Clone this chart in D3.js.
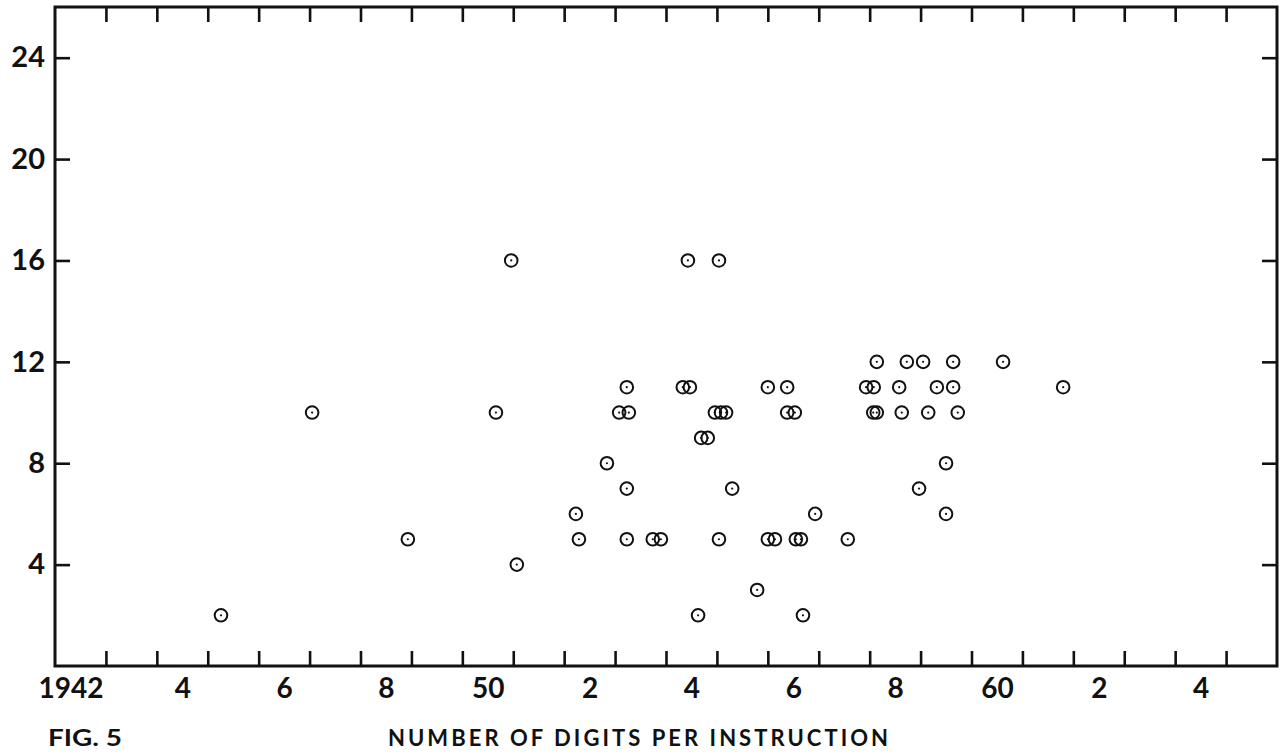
<!DOCTYPE html>
<html>
<head>
<meta charset="utf-8">
<script src="https://cdn.jsdelivr.net/npm/d3@7"></script>
<style>
  html, body { margin: 0; padding: 0; background: #fff; }
  svg { display: block; }
  text { font-family: Lato, "Open Sans", sans-serif; font-weight: 700; fill: #111; }
</style>
</head>
<body>
<svg id="chart" width="1282" height="755"></svg>
<script>
// Year of introduction (fractional) for each machine
const years = [
  1945.26, 1947.05, 1948.93, 1950.66, 1950.96, 1951.07, 1952.23, 1952.29, 1952.84, 1953.08,
  1953.27, 1953.23, 1953.23, 1953.23, 1953.74, 1953.90, 1954.33, 1954.47, 1954.43, 1954.63,
  1954.69, 1954.82, 1954.96, 1955.08, 1955.18, 1955.04, 1955.04, 1955.30, 1955.79, 1956.00,
  1956.00, 1956.14, 1956.38, 1956.38, 1956.53, 1956.55, 1956.65, 1956.69, 1956.93, 1957.57,
  1957.93, 1958.08, 1958.07, 1958.14, 1958.14, 1958.58, 1958.63, 1958.73, 1958.97, 1959.05,
  1959.15, 1959.32, 1959.50, 1959.50, 1959.64, 1959.64, 1959.73, 1960.62, 1961.80
];
// Number of digits per instruction for each machine
const digits = [
  2, 10, 5, 10, 16, 4, 6, 5, 8, 10,
  10, 11, 7, 5, 5, 5, 11, 11, 16, 2,
  9, 9, 10, 10, 10, 16, 5, 7, 3, 11,
  5, 5, 11, 10, 10, 5, 5, 2, 6, 5,
  11, 11, 10, 10, 12, 11, 10, 12, 7, 12,
  10, 11, 8, 6, 12, 11, 10, 12, 11
];

// Axis definitions
const yearDomain = [1942, 1966];
const yearTicks = d3.range(1943, 1966);                 // one tick per year boundary
const yearLabelPos = d3.range(1942.5, 1965, 2);         // labels sit mid-year
const yearLabels = ["1942", "4", "6", "8", "50", "2", "4", "6", "8", "60", "2", "4"];
const digitDomain = [0, 26];
const digitTicks = [4, 8, 12, 16, 20, 24];

const figLabel = "FIG. 5";
const xTitle = "NUMBER OF DIGITS PER INSTRUCTION";

const svg = d3.select("#chart");
const plotL = 55, plotR = 1277, plotT = 7, plotB = 666;

const x = d3.scaleLinear().domain(yearDomain).range([plotL, plotR]);
const y = d3.scaleLinear().domain(digitDomain).range([plotB, plotT]);

const ink = "#111";
const tickLen = 15;

function styleAxis(g, width) {
  g.select(".domain").remove();
  g.selectAll(".tick line").attr("stroke", ink).attr("stroke-width", width);
}

// Inward year ticks along the bottom and top edges
svg.append("g")
  .attr("transform", `translate(0,${plotB})`)
  .call(d3.axisTop(x).tickValues(yearTicks).tickSize(tickLen).tickFormat(""))
  .call(g => styleAxis(g, 2.6));
svg.append("g")
  .attr("transform", `translate(0,${plotT})`)
  .call(d3.axisBottom(x).tickValues(yearTicks).tickSize(tickLen).tickFormat(""))
  .call(g => styleAxis(g, 2.6));

// Inward digit ticks along the left and right edges
svg.append("g")
  .attr("transform", `translate(${plotL},0)`)
  .call(d3.axisRight(y).tickValues(digitTicks).tickSize(tickLen).tickFormat(""))
  .call(g => styleAxis(g, 2.6));
svg.append("g")
  .attr("transform", `translate(${plotR},0)`)
  .call(d3.axisLeft(y).tickValues(digitTicks).tickSize(tickLen).tickFormat(""))
  .call(g => styleAxis(g, 2.6));

// Year labels
const xLab = svg.append("g")
  .attr("transform", `translate(0,${plotB})`)
  .call(d3.axisBottom(x).tickValues(yearLabelPos).tickSize(0).tickPadding(12)
    .tickFormat((d, i) => yearLabels[i]));
xLab.select(".domain").remove();
xLab.selectAll(".tick text")
  .attr("font-size", 28)
  .attr("font-family", null)
  .attr("fill", ink)
  .attr("dx", (d, i) => i === 0 ? -10 : 0);

// Digit labels
const yLab = svg.append("g")
  .attr("transform", `translate(${plotL},0)`)
  .call(d3.axisLeft(y).tickValues(digitTicks).tickSize(0).tickPadding(10));
yLab.select(".domain").remove();
yLab.selectAll(".tick text")
  .attr("font-size", 29)
  .attr("font-family", null)
  .attr("fill", ink);

// Plot frame
svg.append("rect")
  .attr("x", plotL).attr("y", plotT)
  .attr("width", plotR - plotL).attr("height", plotB - plotT)
  .attr("fill", "none").attr("stroke", ink).attr("stroke-width", 3);

// Points: open circle with a centre dot
const pts = years.map((yr, i) => ({ yr, d: digits[i] }));
const marks = svg.append("g");
marks.selectAll("circle.ring")
  .data(pts).join("circle")
  .attr("class", "ring")
  .attr("cx", p => x(p.yr)).attr("cy", p => y(p.d))
  .attr("r", 6.3)
  .attr("fill", "none").attr("stroke", ink).attr("stroke-width", 2);
marks.selectAll("circle.dot")
  .data(pts).join("circle")
  .attr("class", "dot")
  .attr("cx", p => x(p.yr)).attr("cy", p => y(p.d))
  .attr("r", 1.1)
  .attr("fill", ink);

// Caption and axis title
svg.append("text")
  .attr("x", 48).attr("y", 746)
  .attr("font-size", 22)
  .attr("textLength", 74).attr("lengthAdjust", "spacingAndGlyphs")
  .text(figLabel);
svg.append("text")
  .attr("x", 388).attr("y", 746)
  .attr("font-size", 22)
  .attr("textLength", 500).attr("lengthAdjust", "spacing")
  .text(xTitle);
</script>
</body>
</html>
